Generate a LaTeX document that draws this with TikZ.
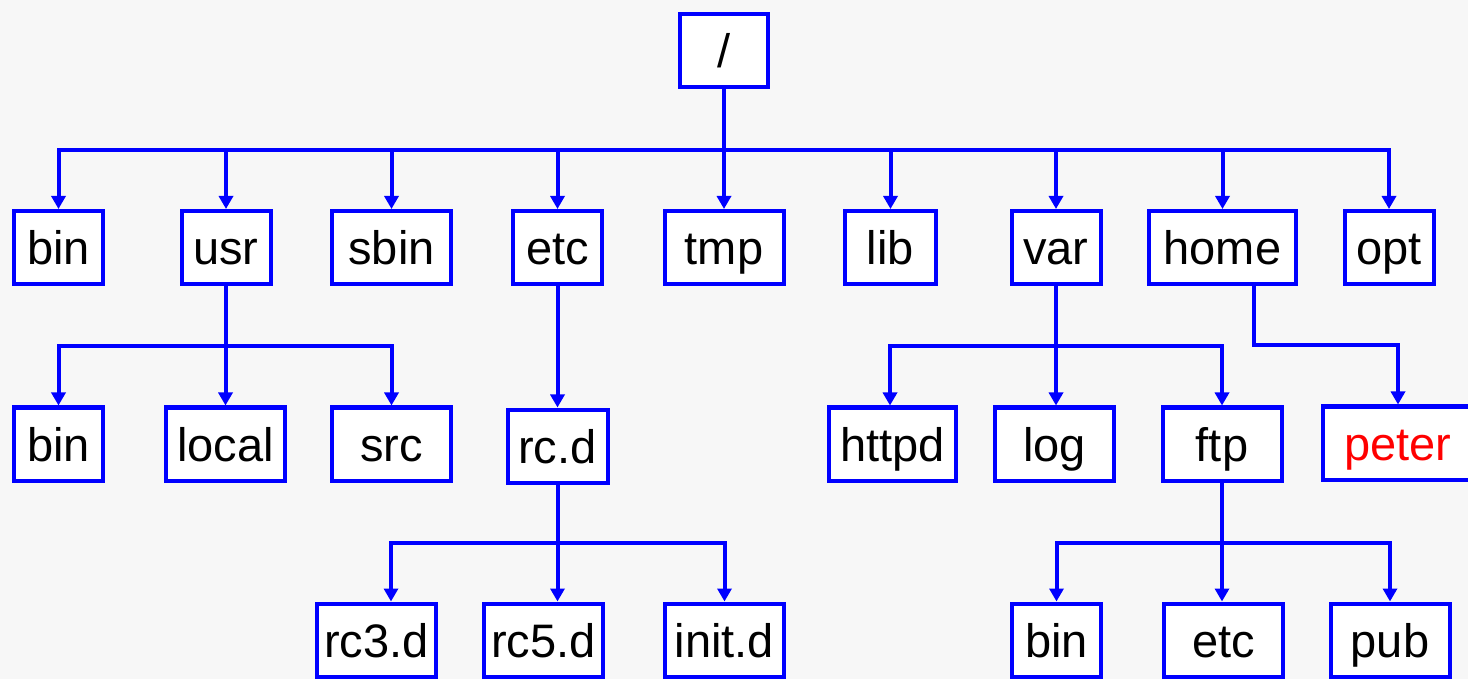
\documentclass[tikz,border=0pt]{standalone}
\usepackage{fontspec}
\setmainfont{Liberation Sans}
\usetikzlibrary{arrows.meta}
\definecolor{bg}{RGB}{247,247,247}
\definecolor{lblue}{RGB}{0,0,255}
\definecolor{lred}{RGB}{255,0,0}
\begin{document}
\begin{tikzpicture}[x=0.5pt,y=-0.5pt,
  box/.style={draw=lblue,line width=2pt,fill=white,inner sep=0pt,
    minimum height=36.5pt,font=\fontsize{23.5pt}{26pt}\selectfont,
    text height=17.5pt,text depth=0pt},
  w/.style={minimum width=#1},
  conn/.style={draw=lblue,line width=2pt},
  arr/.style={conn,-{Triangle[width=7pt,length=6.5pt]}}]
\clip (0,0) rectangle (1468,679);
\fill[bg] (0,0) rectangle (1468,679);
% root
\node[box,w=44pt] (root) at (724,50.5) {/};
% row 1
\node[box,w=44.5pt] (bin1) at (58.5,247.5) {bin};
\node[box,w=44.5pt] (usr) at (226,247.5) {usr};
\node[box,w=59.5pt] (sbin) at (391.5,247.5) {sbin};
\node[box,w=44.5pt] (etc1) at (557.5,247.5) {etc};
\node[box,w=59.5pt] (tmp) at (724,247.5) {tmp};
\node[box,w=45.5pt] (lib) at (890.5,247.5) {lib};
\node[box,w=44.5pt] (var) at (1056,247.5) {var};
\node[box,w=73.5pt] (home) at (1222.5,247.5) {home};
\node[box,w=44.5pt] (opt) at (1389,247.5) {opt};
% row 2
\node[box,w=44.5pt] (bin2) at (58.5,444) {bin};
\node[box,w=59.5pt] (local) at (225.5,444) {local};
\node[box,w=59.5pt] (src) at (391.5,444) {src};
\node[box,w=50pt] (rcd) at (557.5,446) {rc.d};
\node[box,w=63.5pt] (httpd) at (892.5,444) {httpd};
\node[box,w=59.5pt] (log) at (1054.5,444) {log};
\node[box,w=59.5pt] (ftp) at (1222,444) {ftp};
\node[box,w=75pt,text=lred] (peter) at (1398,443) {peter};
% row 3
\node[box,w=59.5pt] (rc3) at (376.5,640) {rc3.d};
\node[box,w=59.5pt] (rc5) at (543.5,640) {rc5.d};
\node[box,w=59.5pt] (init) at (724.5,640) {init.d};
\node[box,w=44.5pt] (bin3) at (1056.5,640) {bin};
\node[box,w=59.5pt] (etc3) at (1223.5,640) {etc};
\node[box,w=59.5pt] (pub) at (1390,640) {pub};
% bus coordinates
\coordinate (b0) at (724,150);
\coordinate (b1) at (226,346);
\coordinate (b2) at (557.5,543);
\coordinate (b3) at (1056,346);
\coordinate (b4) at (1222,543);
\coordinate (hp) at (1254,345);
% edges
\draw[conn] (root.south) -- (b0);
\foreach \n in {bin1,usr,sbin,etc1,tmp,lib,var,home,opt}
  \draw[arr] (b0) -| (\n.north);
\draw[conn] (usr.south) -- (b1);
\foreach \n in {bin2,local,src}
  \draw[arr] (b1) -| (\n.north);
\draw[arr] (etc1.south) -- (rcd.north);
\draw[conn] (rcd.south) -- (b2);
\draw[arr] (b2) -| (rc3.north -| 391,0);
\draw[arr] (b2) -- (b2 |- rc5.north);
\draw[arr] (b2) -| (init.north);
\draw[conn] (var.south) -- (b3);
\draw[arr] (b3) -| (httpd.north -| 890,0);
\draw[arr] (b3) -- (b3 |- log.north);
\draw[arr] (b3) -| (ftp.north);
\draw[conn] (ftp.south) -- (b4);
\draw[arr] (b4) -| (bin3.north);
\draw[arr] (b4) -- (b4 |- etc3.north);
\draw[arr] (b4) -| (pub.north);
\draw[arr] (hp |- home.south) -- (hp) -| (peter.north);
\end{tikzpicture}
\end{document}
